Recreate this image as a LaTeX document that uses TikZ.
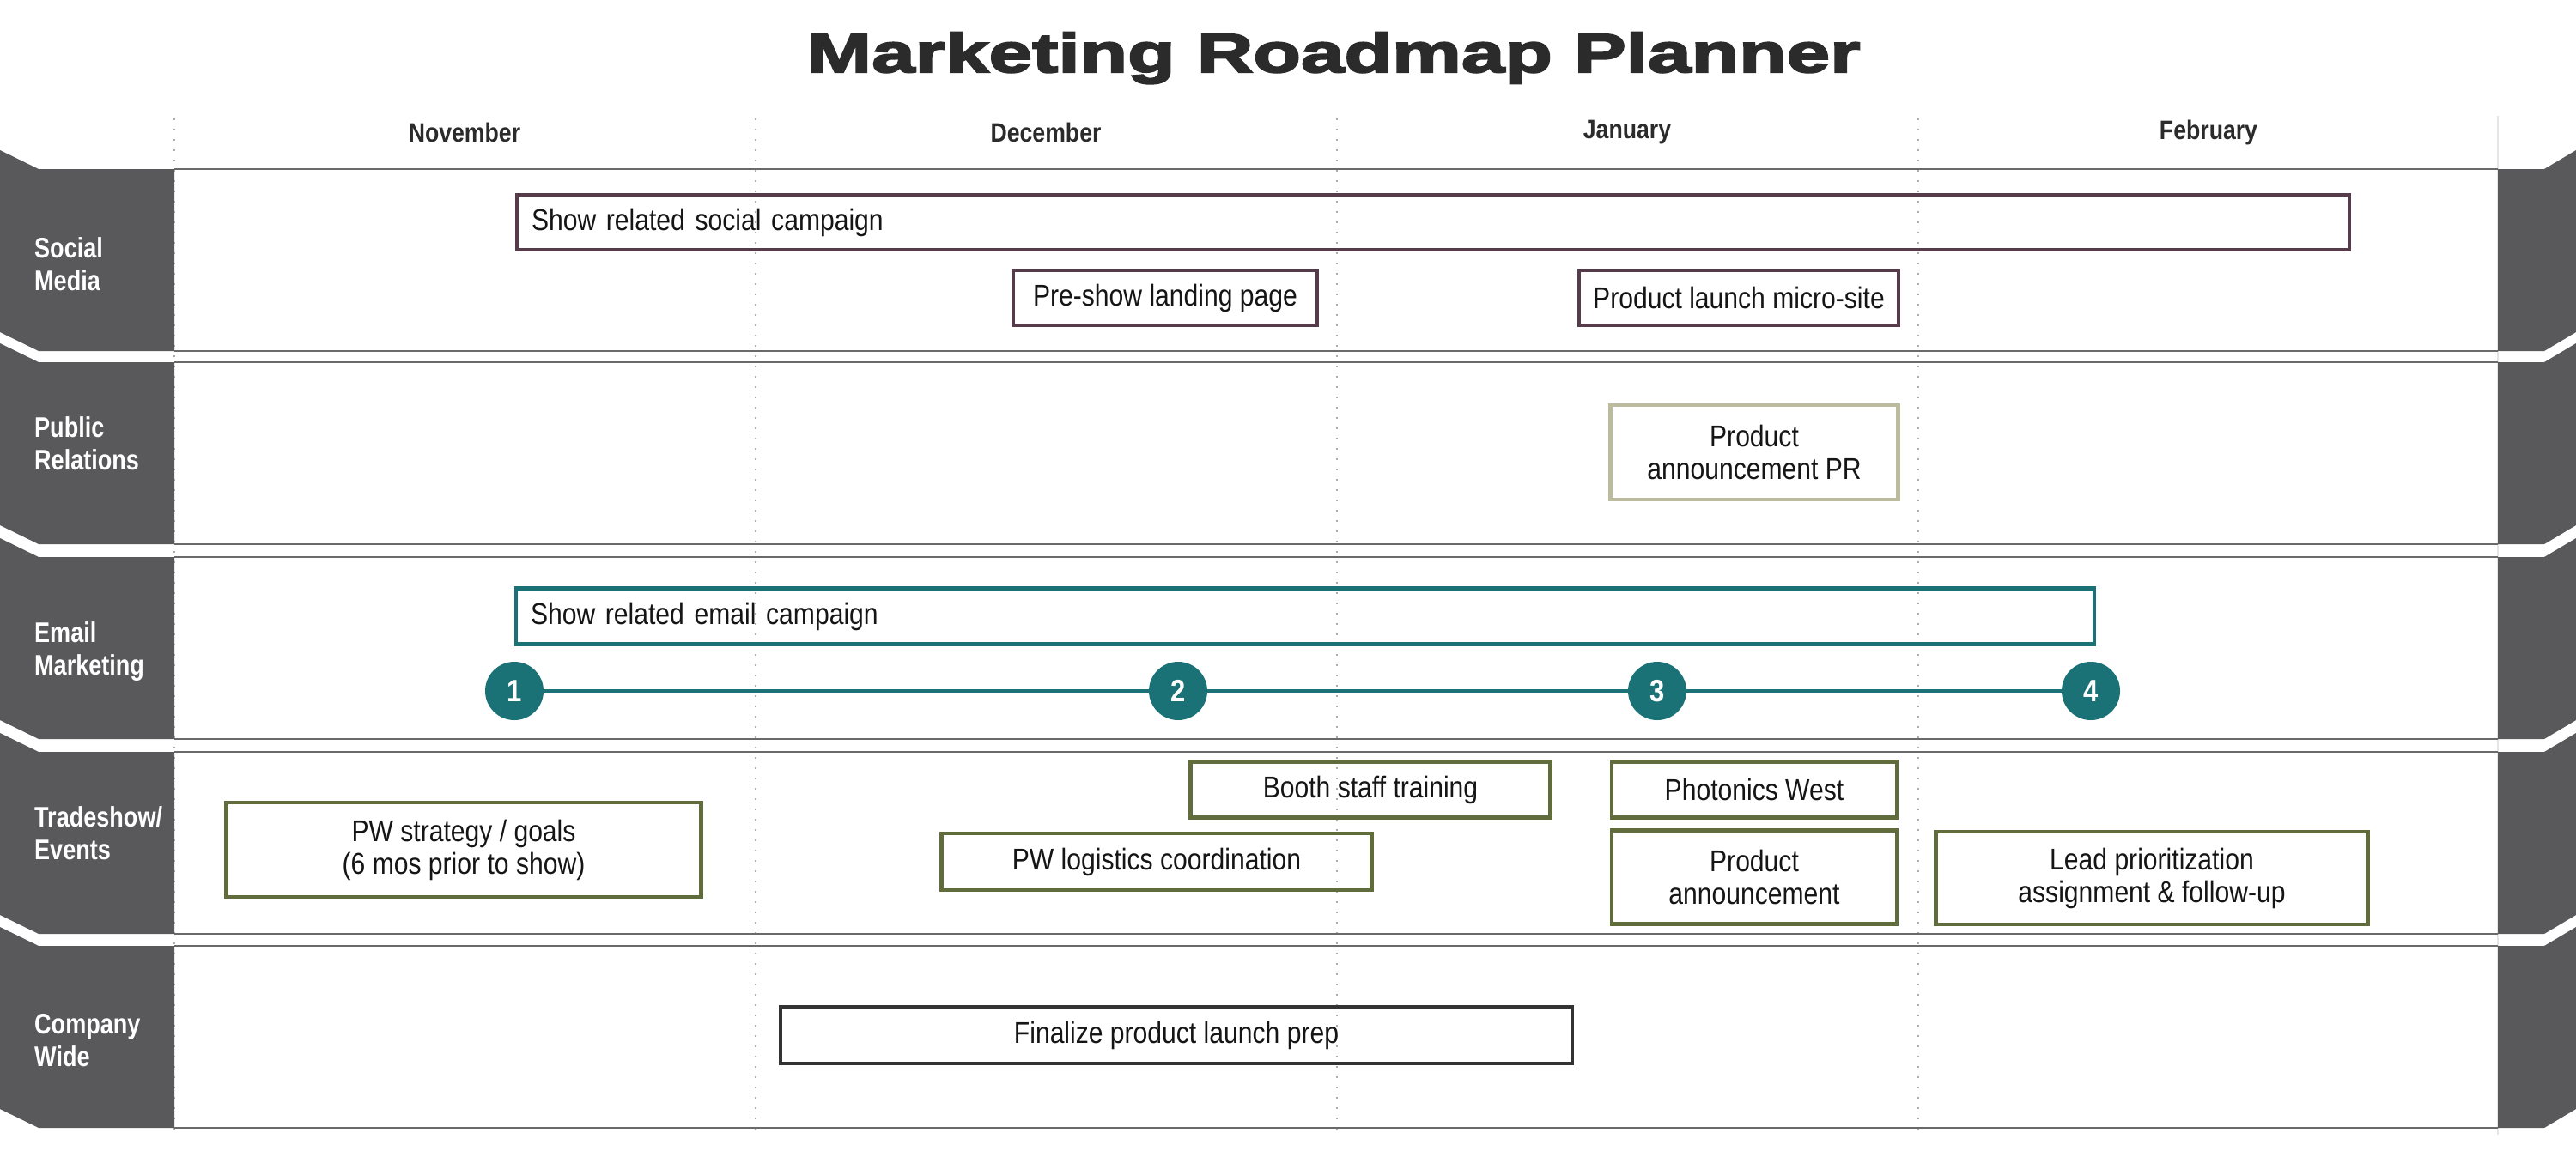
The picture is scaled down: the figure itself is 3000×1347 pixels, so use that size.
\documentclass[tikz,border=0pt]{standalone}
\usepackage{fontspec}
\setmainfont{Liberation Sans}
\newfontfamily\condf{Liberation Sans}[FakeStretch=0.86]
\newfontfamily\condbf{Liberation Sans Bold}[FakeStretch=0.86]
\newfontfamily\lanef{Liberation Sans Bold}[FakeStretch=0.82]
\newfontfamily\titlef{Liberation Sans Bold}[FakeStretch=1.42,FakeBold=3.5]
\definecolor{tabgray}{HTML}{59595B}
\definecolor{linegray}{HTML}{6A6A6A}
\definecolor{dotgray}{HTML}{ADADAD}
\definecolor{titlec}{HTML}{2B2B2B}
\definecolor{textc}{HTML}{151515}
\definecolor{maroon}{HTML}{563B4A}
\definecolor{khaki}{HTML}{BDBB9E}
\definecolor{tealc}{HTML}{1A7276}
\definecolor{olive}{HTML}{606C3C}
\definecolor{darkc}{HTML}{333333}
\begin{document}
\begin{tikzpicture}[x=1pt,y=-1pt,
  tab/.style={fill=tabgray},
  bandline/.style={draw=linegray,line width=2.5pt},
  dotline/.style={draw=dotgray,line width=2.2pt,dash pattern=on 2pt off 10pt},
  lanelabel/.style={anchor=west,align=left,text=white,inner sep=0pt,font=\lanef\fontsize{33}{38}\selectfont},
  month/.style={text=titlec,inner sep=0pt,font=\condbf\fontsize{31}{31}\selectfont},
  box/.style={draw,line width=4.5pt,inner sep=0pt,align=center,text=textc,font=\condf\fontsize{35}{38}\selectfont},
  circ/.style={circle,fill=tealc,minimum size=68pt,inner sep=0pt,text=white,font=\condbf\fontsize{36}{36}\selectfont}
]
\useasboundingbox (0,0) rectangle (3000,1347);
\fill[white] (0,0) rectangle (3000,1347);

% vertical dotted grid
\foreach \xx in {203,880,1557,2234}{\draw[dotline] (\xx,138) -- (\xx,1322);}
\draw[draw=gray!20,line width=1.5pt] (2909,135) -- (2909,1322);

% bands
\foreach \t in {197,422,649,876,1102}{
  \pgfmathsetmacro{\b}{\t+212}
  \fill[tab] (0,\t-22) -- (45,\t) -- (203,\t) -- (203,\b) -- (45,\b) -- (0,\b-22) -- cycle;
  \fill[tab] (2909,\t) -- (2963,\t) -- (3000,\t-22) -- (3000,\b-22) -- (2963,\b) -- (2909,\b) -- cycle;
  \draw[bandline] (203,\t) -- (2909,\t);
  \draw[bandline] (203,\b) -- (2909,\b);
}

% title and months
\node[anchor=base,text=titlec,inner sep=0pt,font=\titlef\fontsize{64}{64}\selectfont] (title) at (1553,84) {Marketing Roadmap Planner};
\node[month] (mnov) at (541,154) {November};
\node[month] (mdec) at (1218,154) {December};
\node[month] (mjan) at (1895,154) {January};
\node[month] (mfeb) at (2572,154) {February};

% lane labels
\node[lanelabel] (lsm) at (40,308) {Social\\Media};
\node[lanelabel] (lpr) at (40,517) {Public\\Relations};
\node[lanelabel] (lem) at (40,759) {Email\\Marketing};
\node[lanelabel] (lts) at (40,971) {Tradeshow/\\Events};
\node[lanelabel] (lcw) at (40,1212) {Company\\Wide};

% social media
\node[box,draw=maroon,minimum height=64pt,text width=2100pt,align=left,inner xsep=17pt] (ssc) at (1669,259) {Show related social campaign};
\node[box,draw=maroon,minimum width=354pt,minimum height=64pt] (plp) at (1357,347) {Pre-show landing page};
\node[box,draw=maroon,minimum width=372pt,minimum height=64pt] (pms) at (2025,347) {Product launch micro-site};

% public relations
\node[box,draw=khaki,minimum width=335pt,minimum height=110pt] (ppr) at (2043,527) {Product\\announcement PR};

% email
\node[box,draw=tealc,minimum height=65pt,text width=1804pt,align=left,inner xsep=17pt] (sec) at (1520,718) {Show related email campaign};
\node[circ] (c1) at (599,805) {1};
\node[circ] (c2) at (1372,805) {2};
\node[circ] (c3) at (1930,805) {3};
\node[circ] (c4) at (2435,805) {4};
\draw[tealc,line width=4pt] (c1) -- (c2) -- (c3) -- (c4);

% tradeshow
\node[box,draw=olive,minimum width=553pt,minimum height=110pt] (pws) at (540,990) {PW strategy / goals\\(6 mos prior to show)};
\node[box,draw=olive,minimum width=419pt,minimum height=65pt] (bst) at (1596,920) {Booth staff training};
\node[box,draw=olive,minimum width=501pt,minimum height=66pt] (pwl) at (1347,1004) {PW logistics coordination};
\node[box,draw=olive,minimum width=332pt,minimum height=65pt] (phw) at (2043,920) {Photonics West};
\node[box,draw=olive,minimum width=332pt,minimum height=109pt] (pan) at (2043,1022) {Product\\announcement};
\node[box,draw=olive,minimum width=503pt,minimum height=108pt] (lpa) at (2506,1023) {Lead prioritization\\assignment \& follow-up};

% company wide
\node[box,draw=darkc,minimum width=922pt,minimum height=66pt] (fpl) at (1370,1206) {Finalize product launch prep};
\end{tikzpicture}
\end{document}
